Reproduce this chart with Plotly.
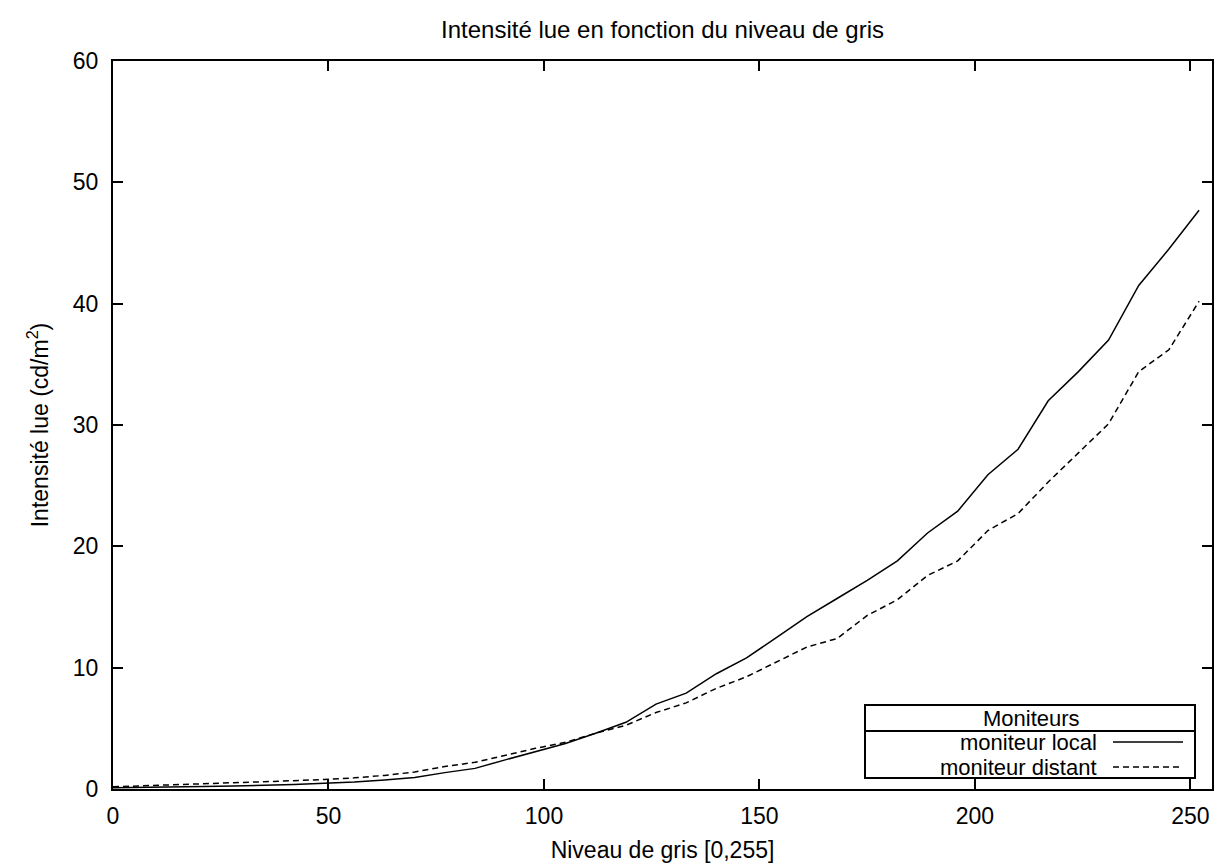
import plotly.graph_objects as go

# Grey levels sampled every 7 steps
niveaux = [0, 7, 14, 21, 28, 35, 42, 49, 56, 63, 70, 77, 84, 91, 98, 105, 112,
           119, 126, 133, 140, 147, 154, 161, 168, 175, 182, 189, 196, 203, 210,
           217, 224, 231, 238, 245, 252]

# Measured luminance (cd/m2)
moniteur_local = [0.10, 0.12, 0.15, 0.20, 0.25, 0.30, 0.38, 0.48, 0.58, 0.75,
                  0.95, 1.35, 1.70, 2.40, 3.05, 3.75, 4.60, 5.50, 7.00, 7.90,
                  9.50, 10.80, 12.50, 14.20, 15.70, 17.20, 18.80, 21.10, 22.90,
                  25.90, 28.00, 32.00, 34.40, 37.00, 41.50, 44.50, 47.70]

moniteur_distant = [0.18, 0.28, 0.35, 0.45, 0.52, 0.60, 0.68, 0.78, 0.92, 1.12,
                    1.40, 1.85, 2.20, 2.80, 3.35, 3.85, 4.60, 5.25, 6.30, 7.10,
                    8.30, 9.25, 10.50, 11.70, 12.40, 14.30, 15.60, 17.60, 18.80,
                    21.30, 22.70, 25.30, 27.70, 30.10, 34.40, 36.20, 40.20]

x_ticks = [0, 50, 100, 150, 200, 250]
y_ticks = [0, 10, 20, 30, 40, 50, 60]

FONT = "Liberation Sans, Arial, Helvetica, sans-serif"
FS = 24

fig = go.Figure()
fig.add_trace(go.Scatter(x=niveaux, y=moniteur_local, mode="lines",
                         name="moniteur local",
                         line=dict(color="black", width=1.5)))
fig.add_trace(go.Scatter(x=niveaux, y=moniteur_distant, mode="lines",
                         name="moniteur distant",
                         line=dict(color="black", width=1.5, dash="6px,4px")))

axis_common = dict(showline=True, linecolor="black", linewidth=2,
                   mirror="ticks", ticks="inside", ticklen=10, tickwidth=2,
                   tickcolor="black", showgrid=False, zeroline=False,
                   automargin=False,
                   tickfont=dict(family=FONT, size=FS - 1, color="black"))

fig.update_xaxes(range=[0, 255], tickvals=x_ticks, ticklabelstandoff=5,
                 title=dict(text="Niveau de gris [0,255]",
                            font=dict(family=FONT, size=FS - 1, color="black"),
                            standoff=18),
                 **axis_common)
fig.update_yaxes(range=[0, 60], tickvals=y_ticks, ticklabelstandoff=8,
                 title=dict(text="Intensité lue (cd/m<sup>2</sup>)",
                            font=dict(family=FONT, size=FS - 1, color="black"),
                            standoff=18),
                 **axis_common)

# Key box in the lower-right corner (pixel positions converted to paper units)
L, R, T, B = 113, 1212, 61, 789
W, H = R - L, B - T


def px(x):
    return (x - L) / W


def py(y):
    return (B - y) / H


box = dict(x0=865, x1=1195, y0=705, y1=778)
row_local, row_distant = 742, 767
shapes = [
    dict(type="rect", xref="paper", yref="paper",
         x0=px(box["x0"]), x1=px(box["x1"]), y0=py(box["y1"]), y1=py(box["y0"]),
         line=dict(color="black", width=2), fillcolor="white", layer="above"),
    dict(type="line", xref="paper", yref="paper",
         x0=px(box["x0"]), x1=px(box["x1"]), y0=py(731), y1=py(731),
         line=dict(color="black", width=2), layer="above"),
    dict(type="line", xref="paper", yref="paper",
         x0=px(1113), x1=px(1183), y0=py(row_local), y1=py(row_local),
         line=dict(color="black", width=1.5), layer="above"),
    dict(type="line", xref="paper", yref="paper",
         x0=px(1113), x1=px(1183), y0=py(row_distant), y1=py(row_distant),
         line=dict(color="black", width=1.5, dash="6px,4px"), layer="above"),
]

annotations = [
    dict(text="Moniteurs", xref="paper", yref="paper", x=px(1031), y=py(718),
         xanchor="center", yanchor="middle", showarrow=False,
         font=dict(family=FONT, size=FS - 2, color="black")),
    dict(text="moniteur local", xref="paper", yref="paper", x=px(1099),
         y=py(row_local), xanchor="right", yanchor="middle", showarrow=False,
         font=dict(family=FONT, size=FS - 2, color="black")),
    dict(text="moniteur distant", xref="paper", yref="paper", x=px(1099),
         y=py(row_distant), xanchor="right", yanchor="middle", showarrow=False,
         font=dict(family=FONT, size=FS - 2, color="black")),
]

fig.update_layout(
    width=1216, height=863,
    margin=dict(l=L, r=1216 - R, t=T, b=863 - B),
    paper_bgcolor="white", plot_bgcolor="white",
    showlegend=False,
    title=dict(text="Intensité lue en fonction du niveau de gris",
               x=(L + R) / 2 / 1216, xanchor="center", y=1 - 30 / 863,
               yanchor="middle",
               font=dict(family=FONT, size=FS, color="black")),
    shapes=shapes, annotations=annotations,
)

fig.write_html("out.html")
